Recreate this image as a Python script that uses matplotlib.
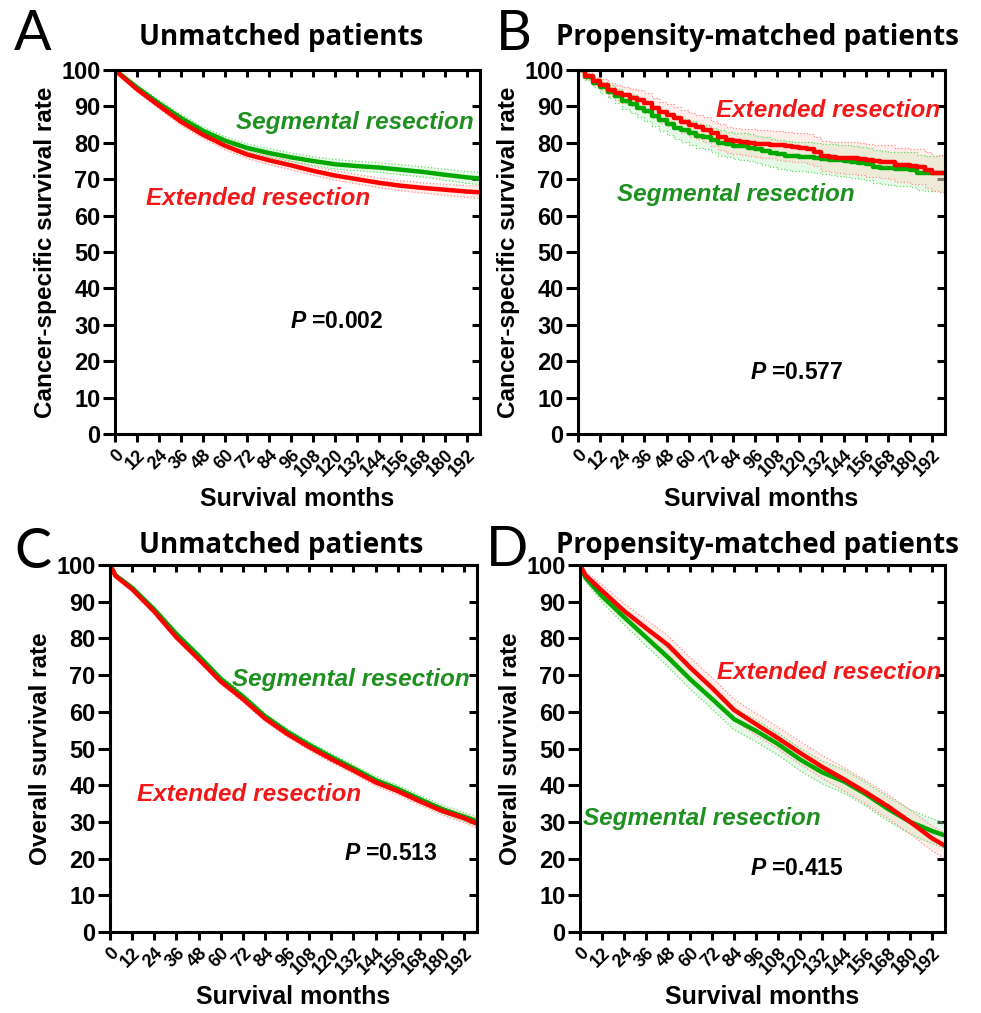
import numpy as np
import matplotlib.pyplot as plt

# months for the smooth curves (A, C, D)
months = [0, 3, 12, 24, 36, 48, 60, 72, 84, 96, 108, 120, 132, 144, 156, 168, 180, 192, 199]

# A: cancer-specific survival, unmatched
a_seg = [100, 98.8, 95.2, 90.8, 86.8, 83.3, 80.6, 78.6, 77.2, 76.0, 75.0, 74.1, 73.6, 73.2, 72.6, 72.0, 71.2, 70.5, 70.2]
a_ext = [100, 98.6, 94.7, 90.2, 85.8, 82.2, 79.2, 76.8, 75.2, 73.8, 72.3, 71.0, 70.0, 69.0, 68.2, 67.6, 67.1, 66.6, 66.4]
a_ci = [0, 0.4, 0.7, 0.9, 1.0, 1.0, 1.1, 1.1, 1.2, 1.2, 1.2, 1.3, 1.3, 1.3, 1.4, 1.4, 1.5, 1.6, 1.7]

# B: cancer-specific survival, propensity matched (step curves, 4-month grid)
b_months = list(range(0, 197, 4)) + [199]
b_seg = [100, 98.0, 96.5, 95.2, 94.0, 92.8, 91.6, 90.6, 89.6, 88.6, 87.4, 86.2, 85.2, 84.2, 83.4, 82.6, 82.0,
         81.6, 80.8, 80.0, 79.6, 79.2, 79.0, 78.6, 78.2, 77.8, 77.2, 76.8, 76.5, 76.3, 76.2, 76.0, 75.8, 75.6,
         75.4, 75.2, 75.0, 74.8, 74.5, 74.2, 73.4, 73.2, 73.0, 72.9, 72.8, 72.6, 71.8, 71.6, 71.6, 71.6, 71.6]
b_ext = [100, 98.3, 97.0, 96.0, 94.6, 93.8, 93.0, 92.4, 91.8, 91.0, 89.6, 88.4, 87.6, 86.8, 85.8, 85.0, 84.4,
         83.6, 82.6, 81.6, 80.8, 80.4, 80.3, 80.0, 79.8, 79.7, 79.5, 79.3, 79.0, 78.8, 78.6, 78.2, 77.6, 76.4,
         76.1, 75.9, 75.8, 75.7, 75.6, 75.2, 75.0, 74.8, 74.7, 74.0, 73.8, 73.6, 73.4, 72.5, 71.6, 71.6, 71.6]
b_ci = [0, 0.8, 1.2, 1.5, 1.8, 2.0, 2.2, 2.4, 2.6, 2.7, 2.8, 2.9, 3.0, 3.1, 3.2, 3.3, 3.3, 3.4, 3.4, 3.5,
        3.5, 3.6, 3.6, 3.7, 3.7, 3.8, 3.8, 3.9, 3.9, 4.0, 4.0, 4.1, 4.1, 4.2, 4.2, 4.3, 4.3, 4.4, 4.4, 4.5,
        4.5, 4.6, 4.6, 4.7, 4.7, 4.8, 4.8, 4.9, 4.9, 5.0, 5.0]

# C: overall survival, unmatched
c_seg = [100, 97.2, 93.8, 87.9, 81.2, 75.3, 69.0, 64.2, 58.8, 54.6, 51.0, 47.7, 44.6, 41.4, 39.0, 36.2, 33.5, 31.4, 30.2]
c_ext = [100, 97.0, 93.4, 87.3, 80.3, 74.4, 68.3, 63.5, 58.2, 54.0, 50.4, 47.1, 44.0, 40.8, 38.4, 35.6, 33.0, 31.0, 29.5]
c_ci = [0, 0.4, 0.5, 0.6, 0.7, 0.7, 0.8, 0.8, 0.8, 0.8, 0.9, 0.9, 0.9, 1.0, 1.0, 1.0, 1.1, 1.2, 1.3]

# D: overall survival, propensity matched
d_seg = [100, 96.5, 91.5, 85.8, 80.3, 74.8, 68.9, 63.5, 58.0, 54.8, 51.2, 47.0, 43.5, 41.0, 37.5, 33.5, 30.0, 27.5, 26.3]
d_ext = [100, 97.2, 93.0, 87.5, 82.8, 78.2, 72.1, 66.5, 60.5, 56.6, 52.8, 48.8, 45.0, 41.6, 38.0, 34.2, 30.0, 25.5, 23.5]
d_ci = [0, 1.0, 1.6, 2.0, 2.3, 2.5, 2.7, 2.8, 2.9, 3.0, 3.0, 3.1, 3.1, 3.2, 3.2, 3.3, 3.3, 3.4, 3.5]

xticks = list(range(0, 193, 12))
yticks = list(range(0, 101, 10))

GREEN = '#00a800'
RED = '#ff0000'
GREEN_TXT = '#1e9020'
RED_TXT = '#f01818'

plt.rcParams['font.family'] = ['Liberation Sans', 'DejaVu Sans']
plt.rcParams['font.weight'] = 'bold'
plt.rcParams['mathtext.fontset'] = 'custom'
plt.rcParams['mathtext.bfit'] = 'Liberation Sans:italic:bold'
plt.rcParams['mathtext.bf'] = 'Liberation Sans:bold'
plt.rcParams['mathtext.rm'] = 'Liberation Sans'

fig = plt.figure(figsize=(9.81, 10.13), dpi=100)
W, H = 981, 1013


def add_ax(l, t, r, b):
    return fig.add_axes([l / W, 1 - b / H, (r - l) / W, (b - t) / H])


def band(ax, x, y, ci, color, edge, step):
    y = np.array(y)
    ci = np.array(ci)
    lo, hi = y - ci, y + ci
    ds = 'steps-post' if step else 'default'
    ax.fill_between(x, lo, hi, color=color, alpha=0.35, lw=0, step='post' if step else None)
    ax.plot(x, lo, ls=':', lw=0.9, color=edge, drawstyle=ds)
    ax.plot(x, hi, ls=':', lw=0.9, color=edge, drawstyle=ds)


def panel(ax, x, seg, ext, ci_seg, ci_ext, ylabel, step=False):
    ds = 'steps-post' if step else 'default'
    band(ax, x, seg, ci_seg, '#b8f0b8', '#66dd66', step)
    band(ax, x, ext, ci_ext, '#ffd0c0', '#ff9090', step)
    ax.plot(x, seg, color=GREEN, lw=3.2, drawstyle=ds, solid_capstyle='butt')
    ax.plot(x, ext, color=RED, lw=3.2, drawstyle=ds, solid_capstyle='butt')
    ax.set_xlim(0, 199)
    ax.set_ylim(0, 100)
    ax.set_xticks(xticks)
    ax.set_xticklabels([str(v) for v in xticks], rotation=45, ha='right',
                       rotation_mode='anchor', fontsize=13, fontweight='bold')
    ax.set_yticks(yticks)
    ax.set_yticklabels([str(v) for v in yticks], fontsize=17, fontweight='bold')
    ax.tick_params(axis='y', direction='out', length=8.5, width=2.2, pad=2)
    ax.tick_params(axis='x', direction='out', length=6, width=2.2, pad=3)
    for s in ax.spines.values():
        s.set_linewidth(2.2)
    top = ax.secondary_xaxis('top')
    top.set_xticks(xticks)
    top.set_xticklabels([])
    top.tick_params(direction='in', length=5, width=2.2)
    right = ax.secondary_yaxis('right')
    right.set_yticks(yticks)
    right.set_yticklabels([])
    right.tick_params(direction='in', length=6, width=2.2)
    ax.set_xlabel('Survival months', fontsize=18, fontweight='bold', labelpad=5)
    ax.set_ylabel(ylabel, fontsize=17.5, fontweight='bold', labelpad=3)


axA = add_ax(115, 70, 480, 434)
axB = add_ax(578, 70, 945, 434)
axC = add_ax(110, 565, 477, 932)
axD = add_ax(580, 565, 945, 932)

panel(axA, months, a_seg, a_ext, a_ci, a_ci, 'Cancer-specific survival rate')
panel(axB, b_months, b_seg, b_ext, b_ci, b_ci, 'Cancer-specific survival rate', step=True)
panel(axC, months, c_seg, c_ext, c_ci, c_ci, 'Overall survival rate')
panel(axD, months, d_seg, d_ext, d_ci, d_ci, 'Overall survival rate')

ann = dict(fontsize=17.5, fontweight='bold', style='italic', va='center', ha='left')
axA.text(66, 85.5, 'Segmental resection', color=GREEN_TXT, **ann)
axA.text(17, 64.6, 'Extended resection', color=RED_TXT, **ann)
axB.text(75, 89, 'Extended resection', color=RED_TXT, **ann)
axB.text(21, 65.7, 'Segmental resection', color=GREEN_TXT, **ann)
axC.text(66, 68.9, 'Segmental resection', color=GREEN_TXT, **ann)
axC.text(14.5, 37.5, 'Extended resection', color=RED_TXT, **ann)
axD.text(74.5, 70.8, 'Extended resection', color=RED_TXT, **ann)
axD.text(1.5, 30.9, 'Segmental resection', color=GREEN_TXT, **ann)

pstyle = dict(fontsize=16.5, fontweight='bold', va='center', ha='left')
axA.text(95.5, 30.8, r'$\bfit{P}$ =0.002', **pstyle)
axB.text(93, 17, r'$\bfit{P}$ =0.577', **pstyle)
axC.text(127, 21.3, r'$\bfit{P}$ =0.513', **pstyle)
axD.text(92.5, 17.2, r'$\bfit{P}$ =0.415', **pstyle)

# panel letters and titles
for letter, x, y in [('A', 14, 35), ('B', 496, 35), ('C', 14, 553), ('D', 486, 550)]:
    fig.text(x / W, 1 - y / H, letter, fontsize=40, family='Lato', fontweight='normal',
             va='center', ha='left')
for title, x, y in [('Unmatched patients', 281, 38), ('Propensity-matched patients', 757, 38),
                    ('Unmatched patients', 281, 545), ('Propensity-matched patients', 757, 545)]:
    fig.text(x / W, 1 - y / H, title, fontsize=20, family='Open Sans', fontweight='bold',
             va='center', ha='center')

fig.savefig('out.png', dpi=100)
